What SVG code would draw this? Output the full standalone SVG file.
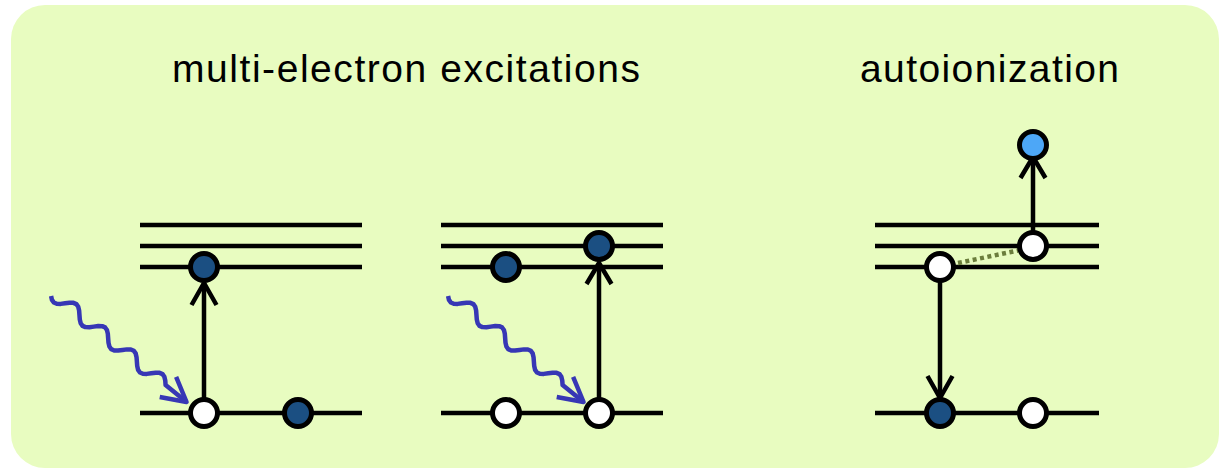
<svg xmlns="http://www.w3.org/2000/svg" xmlns:xlink="http://www.w3.org/1999/xlink" width="1219" height="468" viewBox="0 0 1219 468">
  <style>
    .title { font-family: "Liberation Sans", Arial, sans-serif; font-size: 39px; fill: #000; }
    .level { stroke: #000; stroke-width: 4.5; fill: none; }
    .arrow { stroke: #000; stroke-width: 4.5; fill: none; stroke-linecap: butt; stroke-linejoin: miter; }
    .photon { stroke: #3737b5; stroke-width: 4.5; fill: none; stroke-linejoin: round; }
    .e-empty { fill: #ffffff; stroke: #000; stroke-width: 5; }
    .e-full { fill: #1b4f82; stroke: #000; stroke-width: 5; }
    .e-free { fill: #4da7f7; stroke: #000; stroke-width: 5; }
    .coupling { stroke: #6b7d3c; stroke-width: 4.5; stroke-dasharray: 4 3.5; fill: none; }
  </style>
  <defs>
    <g id="photonShape">
      <polyline class="photon" points="-15.42,3.25 -12.33,5.63 -9.25,6.5 -6.17,5.63 -3.08,3.25 0,0 3.08,-3.25 6.17,-5.63 9.25,-6.5 12.33,-5.63 15.42,-3.25 18.5,0 21.58,3.25 24.67,5.63 27.75,6.5 30.83,5.63 33.92,3.25 37,0 40.08,-3.25 43.17,-5.63 46.25,-6.5 49.33,-5.63 52.42,-3.25 55.5,0 58.58,3.25 61.67,5.63 64.75,6.5 67.83,5.63 70.92,3.25 74,0 77.08,-3.25 80.17,-5.63 83.25,-6.5 86.33,-5.63 89.42,-3.25 92.5,0 95.58,3.25 98.67,5.63 101.75,6.5 104.83,5.63 107.92,3.25 111,0 114.08,-3.25 117.17,-5.63 120.25,-6.5 123.33,-5.63 126.42,-3.25 129.5,0 156.5,0"/>
      <polyline class="photon" points="132.5,-13 156.5,0 132.5,13"/>
    </g>
  </defs>

  <rect id="background" x="11" y="5" width="1208" height="463" rx="34" ry="34" fill="#e8fcc0"/>

  <g id="titles">
    <text class="title" x="172" y="82" textLength="468">multi-electron excitations</text>
    <text class="title" x="860" y="82" textLength="259">autoionization</text>
  </g>

  <g id="levels">
    <g id="levels-1">
      <line class="level" x1="140" y1="225" x2="362" y2="225"/>
      <line class="level" x1="140" y1="246" x2="362" y2="246"/>
      <line class="level" x1="140" y1="267" x2="362" y2="267"/>
      <line class="level" x1="140" y1="413" x2="362" y2="413"/>
    </g>
    <g id="levels-2">
      <line class="level" x1="441" y1="225" x2="663" y2="225"/>
      <line class="level" x1="441" y1="246" x2="663" y2="246"/>
      <line class="level" x1="441" y1="267" x2="663" y2="267"/>
      <line class="level" x1="441" y1="413" x2="663" y2="413"/>
    </g>
    <g id="levels-3">
      <line class="level" x1="875" y1="225" x2="1099" y2="225"/>
      <line class="level" x1="875" y1="246" x2="1099" y2="246"/>
      <line class="level" x1="875" y1="267" x2="1099" y2="267"/>
      <line class="level" x1="875" y1="413" x2="1099" y2="413"/>
    </g>
  </g>

  <g id="connectors">
    <use id="photon-1" xlink:href="#photonShape" href="#photonShape" transform="translate(65.1,303.3) rotate(39.1)"/>
    <use id="photon-2" xlink:href="#photonShape" href="#photonShape" transform="translate(462.1,303.3) rotate(39.1)"/>
    <g id="excite-1">
      <line class="arrow" x1="204" y1="400" x2="204" y2="283"/>
      <polyline class="arrow" points="191.5,305 204,283 216.5,305"/>
    </g>
    <g id="excite-2">
      <line class="arrow" x1="599" y1="400" x2="599" y2="263"/>
      <polyline class="arrow" points="586.5,284 599,263 611.5,284"/>
    </g>
    <g id="eject">
      <line class="arrow" x1="1033" y1="232" x2="1033" y2="157"/>
      <polyline class="arrow" points="1020.5,178 1033,157 1045.5,178"/>
    </g>
    <g id="decay">
      <line class="arrow" x1="940" y1="281" x2="940" y2="398"/>
      <polyline class="arrow" points="927.5,376 940,398 952.5,376"/>
    </g>
    <line id="coupling" class="coupling" x1="958" y1="263" x2="1018" y2="250.5"/>
  </g>

  <g id="electrons">
    <g id="p1-hole-ground"><circle class="e-empty" cx="204" cy="413" r="13.5"/></g>
    <g id="p1-electron-ground"><circle class="e-full" cx="298" cy="413" r="13.5"/></g>
    <g id="p1-electron-excited"><circle class="e-full" cx="204" cy="267" r="13.5"/></g>

    <g id="p2-hole-ground-a"><circle class="e-empty" cx="506" cy="413" r="13.5"/></g>
    <g id="p2-hole-ground-b"><circle class="e-empty" cx="599" cy="413" r="13.5"/></g>
    <g id="p2-electron-excited-a"><circle class="e-full" cx="506" cy="267" r="13.5"/></g>
    <g id="p2-electron-excited-b"><circle class="e-full" cx="599" cy="246" r="13.5"/></g>

    <g id="p3-electron-ground"><circle class="e-full" cx="940" cy="413" r="13.5"/></g>
    <g id="p3-hole-ground"><circle class="e-empty" cx="1033" cy="413" r="13.5"/></g>
    <g id="p3-hole-excited-a"><circle class="e-empty" cx="940" cy="267" r="13.5"/></g>
    <g id="p3-hole-excited-b"><circle class="e-empty" cx="1033" cy="246" r="13.5"/></g>
    <g id="p3-free-electron"><circle class="e-free" cx="1033" cy="145" r="13.5"/></g>
  </g>
</svg>
